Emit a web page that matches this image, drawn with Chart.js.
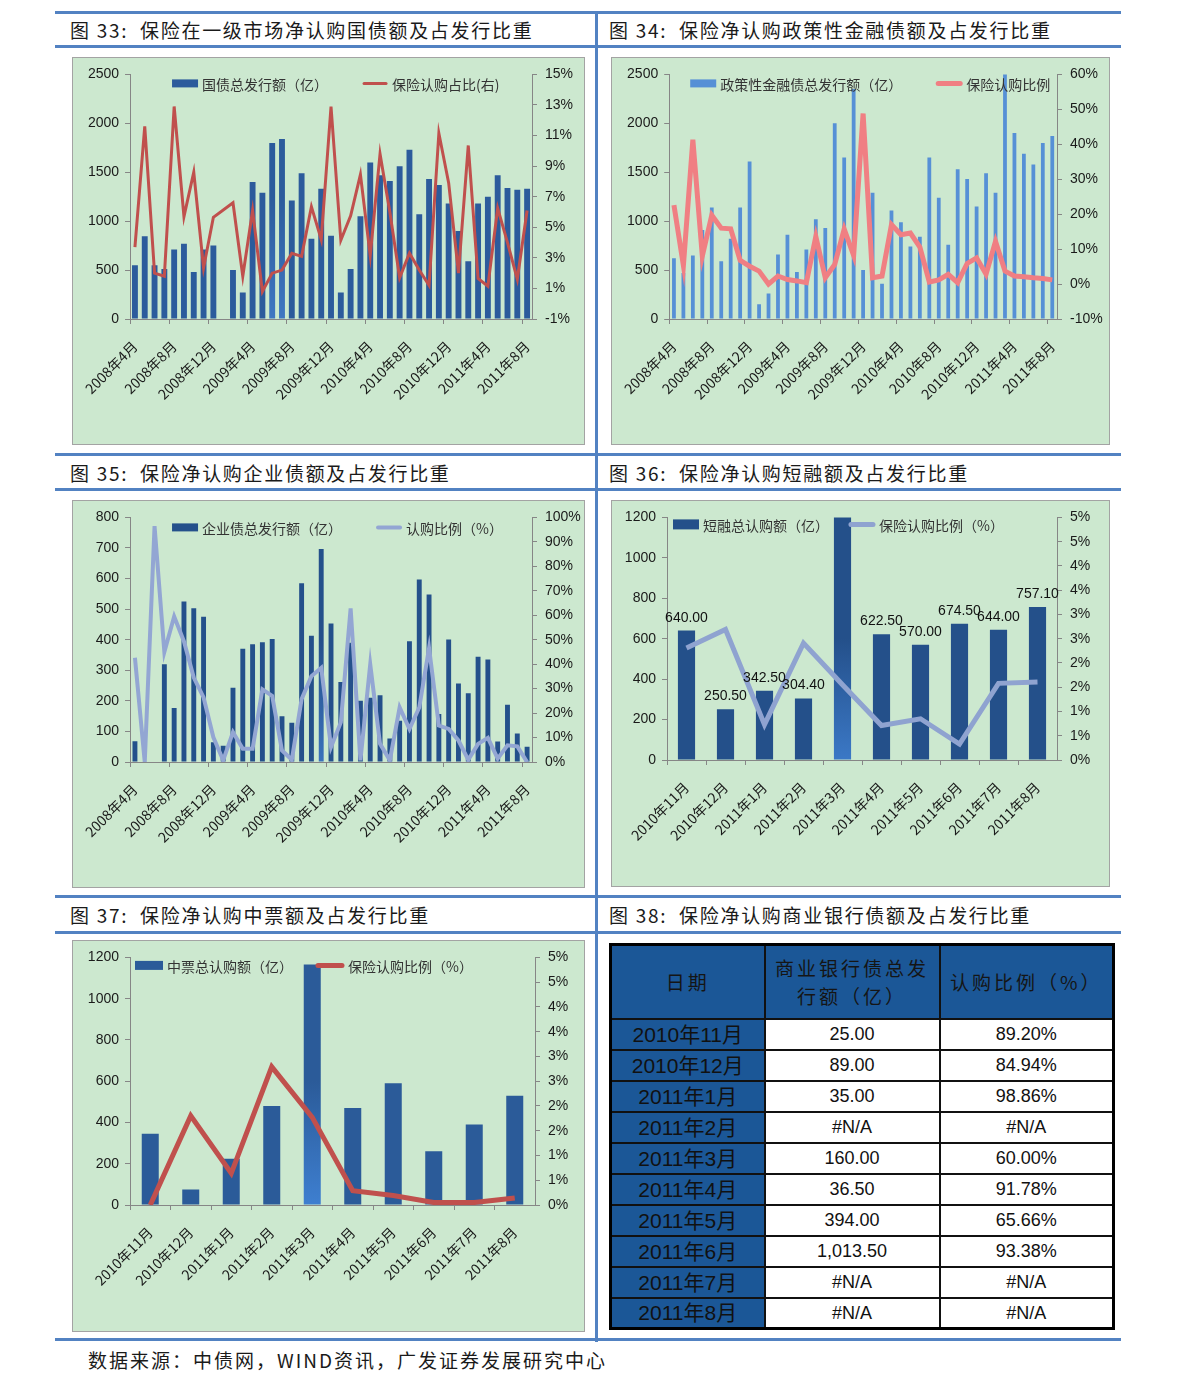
<!DOCTYPE html>
<html lang="zh-CN">
<head>
<meta charset="utf-8">
<title>保险净认购债券额及占发行比重</title>
<script src="https://cdn.jsdelivr.net/npm/chart.js@4.4.0/dist/chart.umd.min.js"></script>
<style>
  body { margin: 0; background: #fff; }
  #page { position: relative; width: 1191px; height: 1391px; font-family: 'Noto Sans CJK SC', sans-serif; overflow: hidden; }
  .hline { position: absolute; left: 55px; width: 1066px; height: 3px; background: #5282c2; }
  .vline { position: absolute; left: 595px; top: 12px; width: 3px; height: 1330px; background: #5282c2; }
  .title { position: absolute; font-size: 19px; line-height: 24px; letter-spacing: 1.7px; color: #1a1a1a; white-space: pre; }
  .box { position: absolute; background: #cce8cf; border: 1px solid #a3a3a3; box-sizing: border-box; }
  .box canvas { position: absolute; left: 0; top: 0; }
  #t38 { position: absolute; left: 609px; top: 943px; width: 503px; height: 387px; border-collapse: collapse; border: 3px solid #000; table-layout: fixed; }
  #t38 th, #t38 td { border: 2px solid #111; text-align: center; padding: 0; line-height: 1; }
  #t38 th { background: #1b5797; color: #151515; font-weight: normal; font-size: 19px; letter-spacing: 3px; line-height: 28px; }
  #t38 thead tr { height: 74px; }
  #t38 tbody tr { height: 31px; }
  #t38 td { font-family: 'Liberation Sans', 'Noto Sans CJK SC', sans-serif; font-size: 18px; color: #111; background: #fff; }
  #t38 td.m { background: #1b5797; font-size: 21px; }
  .src { position: absolute; left: 88px; top: 1346px; font-size: 19px; letter-spacing: 2px; color: #1a1a1a; }
</style>
</head>
<body>
<div id="page">
  <div class="hline" style="top:11px"></div>
  <div class="hline" style="top:45px"></div>
  <div class="hline" style="top:453px"></div>
  <div class="hline" style="top:488px"></div>
  <div class="hline" style="top:895px"></div>
  <div class="hline" style="top:931px"></div>
  <div class="hline" style="top:1338px"></div>
  <div class="vline"></div>

  <div class="title" style="left:70px;top:18px">图 33:  保险在一级市场净认购国债额及占发行比重</div>
  <div class="title" style="left:609px;top:18px">图 34:  保险净认购政策性金融债额及占发行比重</div>
  <div class="title" style="left:70px;top:461px">图 35:  保险净认购企业债额及占发行比重</div>
  <div class="title" style="left:609px;top:461px">图 36:  保险净认购短融额及占发行比重</div>
  <div class="title" style="left:70px;top:903px">图 37:  保险净认购中票额及占发行比重</div>
  <div class="title" style="left:609px;top:903px">图 38:  保险净认购商业银行债额及占发行比重</div>

  <div class="box" style="left:72px;top:57px;width:513px;height:388px"><canvas id="c33" width="511" height="386"></canvas></div>
  <div class="box" style="left:611px;top:57px;width:499px;height:388px"><canvas id="c34" width="497" height="386"></canvas></div>
  <div class="box" style="left:72px;top:500px;width:513px;height:388px"><canvas id="c35" width="511" height="386"></canvas></div>
  <div class="box" style="left:611px;top:500px;width:499px;height:387px"><canvas id="c36" width="497" height="385"></canvas></div>
  <div class="box" style="left:72px;top:940px;width:513px;height:392px"><canvas id="c37" width="511" height="390"></canvas></div>

  <table id="t38">
    <colgroup><col style="width:154px"><col style="width:175px"><col style="width:174px"></colgroup>
    <thead><tr><th>日期</th><th>商业银行债总发<br>行额（亿）</th><th>认购比例（%）</th></tr></thead>
    <tbody id="t38body"></tbody>
  </table>

  <div class="src">数据来源：中债网，WIND资讯，广发证券发展研究中心</div>
</div>

<script>
// 月份（2008年4月 - 2011年8月）
const months = ['2008年4月','2008年5月','2008年6月','2008年7月','2008年8月','2008年9月','2008年10月','2008年11月','2008年12月',
  '2009年1月','2009年2月','2009年3月','2009年4月','2009年5月','2009年6月','2009年7月','2009年8月','2009年9月','2009年10月','2009年11月','2009年12月',
  '2010年1月','2010年2月','2010年3月','2010年4月','2010年5月','2010年6月','2010年7月','2010年8月','2010年9月','2010年10月','2010年11月','2010年12月',
  '2011年1月','2011年2月','2011年3月','2011年4月','2011年5月','2011年6月','2011年7月','2011年8月'];
const recentMonths = ['2010年11月','2010年12月','2011年1月','2011年2月','2011年3月','2011年4月','2011年5月','2011年6月','2011年7月','2011年8月'];

// 图33 国债
const govIssue = [550,845,550,510,710,770,480,710,750,null,500,270,1400,1290,1800,1840,1210,1490,820,1330,850,270,510,1050,1600,1470,1410,1560,1730,1070,1430,1370,1180,900,590,1180,1250,1470,1340,1320,1330];
const govRatio = [3.7,11.6,2.0,1.8,12.9,5.7,8.6,2.35,5.65,null,6.6,1.8,6.1,0.8,2.0,2.2,3.3,3.1,6.35,4.2,12.9,4.15,5.75,8.45,3.15,9.8,6.0,1.7,3.3,2.2,1.2,11.15,7.9,2.0,10.35,1.65,1.15,6.25,4.0,1.6,6.1];

// 图34 政策性金融债
const policyIssue = [620,470,650,910,1140,590,820,1140,1610,150,260,660,860,480,710,1020,930,2000,1650,2350,500,1290,360,1110,990,740,840,1650,1240,760,1530,1430,1150,1490,1290,2600,1900,1690,1580,1800,1870];
const policyRatio = [22.6,5.3,41.3,8.0,19.7,16.0,15.8,6.8,5.1,3.7,0,2.3,1.3,0.9,0.4,13.6,1.8,5.6,15.7,8.2,48.8,1.8,2.3,17.0,14.1,14.6,10.6,0.6,1.2,2.8,0.4,5.9,7.5,2.8,12.2,3.7,2.3,2.1,1.8,1.6,1.2];

// 图35 企业债
const corpIssue = [68,0,2,320,177,525,503,475,65,53,243,370,385,392,402,150,128,585,413,697,453,262,390,200,210,218,77,135,395,597,548,157,401,257,225,344,335,67,187,93,50];
const corpRatio = [42.6,0,96.4,45,59.5,49.3,34.5,26.4,10.1,0.7,12.2,5.4,5.4,29.7,27,4.7,0.9,25.7,35.1,38.5,6.1,16.2,62.8,0.7,39.9,7.4,0.7,22.3,13.5,22.3,46.6,14.9,13.5,8.8,0.9,7.4,9.9,1.4,6.8,6.4,0];

// 图36 短融
const cpAmount = [640,250.5,342.5,304.4,1250,622.5,570,674.5,644,757.1];
const cpRatio = [2.31,2.69,0.73,2.41,1.55,0.71,0.85,0.33,1.58,1.61];

// 图37 中票
const mtnAmount = [345,75,224,480,1165,470,590,260,390,530];
const mtnRatio = [0,1.80,0.64,2.79,1.77,0.29,0.19,0.05,0.05,0.14];

// 图38 商业银行债（表格）
const bankIssue = ['25.00','89.00','35.00','#N/A','160.00','36.50','394.00','1,013.50','#N/A','#N/A'];
const bankRatio = ['89.20%','84.94%','98.86%','#N/A','60.00%','91.78%','65.66%','93.38%','#N/A','#N/A'];

const axisGray = '#868686';
const numFont = { family: "'Liberation Sans', Arial, sans-serif", size: 14 };
const catFont = { family: "'Liberation Sans Narrow', 'Noto Sans CJK SC', sans-serif", size: 14 };

// 图例画在绘图区里面（仿 Excel）
const insideLegend = {
  id: 'insideLegend',
  afterDraw(chart, args, opts) {
    const { ctx, chartArea } = chart;
    ctx.save();
    ctx.font = '14px "Noto Sans CJK SC", sans-serif';
    ctx.textBaseline = 'middle';
    let x = chartArea.left + opts.x;
    const y = chartArea.top + opts.y;
    chart.data.datasets.forEach(ds => {
      if (ds.type === 'line') {
        ctx.strokeStyle = ds.borderColor;
        ctx.lineWidth = ds.borderWidth;
        ctx.lineCap = 'round';
        ctx.beginPath();
        ctx.moveTo(x + 2, y);
        ctx.lineTo(x + opts.box - 2, y);
        ctx.stroke();
      } else {
        ctx.fillStyle = ds.legendColor;
        ctx.fillRect(x, y - opts.boxH / 2, opts.box, opts.boxH);
      }
      ctx.fillStyle = '#333';
      ctx.fillText(ds.label, x + opts.box + 4, y + 1);
      x += opts.box + 4 + ctx.measureText(ds.label).width + opts.gap;
    });
    ctx.restore();
  }
};

// 柱顶数值标签（图36）
const barLabels = {
  id: 'barLabels',
  afterDatasetsDraw(chart, args, opts) {
    if (!opts || !opts.show) return;
    const { ctx } = chart;
    const values = chart.data.datasets[0].data;
    ctx.save();
    ctx.font = "14px 'Liberation Sans', Arial, sans-serif";
    ctx.fillStyle = '#111';
    ctx.textAlign = 'center';
    chart.getDatasetMeta(0).data.forEach((bar, i) => {
      if (values[i] > chart.scales.y.max) return;
      ctx.fillText(values[i].toFixed(2), bar.x, bar.y - 9);
    });
    ctx.restore();
  }
};

function gradBar(base, light, idxs) {
  return c => {
    const area = c.chart.chartArea;
    if (!area || !idxs.includes(c.dataIndex)) return base;
    const g = c.chart.ctx.createLinearGradient(0, area.top, 0, area.bottom);
    g.addColorStop(0, base);
    g.addColorStop(0.5, base);
    g.addColorStop(1, light);
    return g;
  };
}

function buildChart(id, cfg) {
  const ctx = document.getElementById(id).getContext('2d');
  const yAxis = (pos, min, max, step, fmt, width, pad) => ({
    position: pos,
    min: min,
    max: max,
    ticks: { stepSize: step, font: numFont, color: '#1a1a1a', padding: pad, callback: fmt },
    grid: { drawOnChartArea: false, tickLength: 5, color: axisGray },
    border: { color: axisGray },
    afterFit: s => { s.width = width; }
  });
  return new Chart(ctx, {
    data: {
      labels: cfg.labels,
      datasets: [
        {
          type: 'bar',
          label: cfg.barLabel,
          data: cfg.bars,
          backgroundColor: gradBar(cfg.barColor, cfg.barLight, cfg.gradIdx || []),
          legendColor: cfg.barColor,
          barPercentage: cfg.barPct,
          categoryPercentage: 1,
          yAxisID: 'y',
          order: 1
        },
        {
          type: 'line',
          label: cfg.lineLabel,
          data: cfg.line,
          borderColor: cfg.lineColor,
          borderWidth: cfg.lineWidth,
          pointRadius: 0,
          tension: 0,
          spanGaps: true,
          yAxisID: 'y1',
          order: 0
        }
      ]
    },
    options: {
      responsive: false,
      animation: false,
      devicePixelRatio: 1,
      layout: { padding: { top: cfg.padTop, left: 0, right: 0, bottom: 0 } },
      plugins: {
        legend: { display: false },
        tooltip: { enabled: false },
        insideLegend: cfg.legend,
        barLabels: { show: !!cfg.showValues }
      },
      scales: {
        x: {
          grid: {
            offset: true,
            drawOnChartArea: false,
            tickLength: 5,
            color: c => (c.index % cfg.every === 0 ? axisGray : 'rgba(0,0,0,0)')
          },
          border: { color: axisGray },
          ticks: {
            autoSkip: false,
            minRotation: 45,
            maxRotation: 45,
            padding: 14,
            font: catFont,
            color: '#1a1a1a',
            callback: (v, i) => (i % cfg.every === 0 ? cfg.labels[i] : '')
          },
          afterFit: s => { s.height = cfg.xH; }
        },
        y: yAxis('left', 0, cfg.yMax, cfg.yStep, v => v, cfg.leftW, 6),
        y1: yAxis('right', cfg.rMin, cfg.rMax, cfg.rStep, cfg.rFmt, cfg.rightW, 8)
      }
    },
    plugins: [insideLegend, barLabels]
  });
}

const pct = v => v + '%';
const pctRound = v => Math.round(v) + '%';

buildChart('c33', {
  labels: months, bars: govIssue, line: govRatio, every: 4,
  barLabel: '国债总发行额（亿）', lineLabel: '保险认购占比(右)',
  barColor: '#2c5b9c', barLight: '#3f77c2', gradIdx: [14, 15], barPct: 0.6,
  lineColor: '#c0504d', lineWidth: 3,
  yMax: 2500, yStep: 500, rMin: -1, rMax: 15, rStep: 2, rFmt: pct,
  leftW: 55, rightW: 52, padTop: 13, xH: 125,
  legend: { x: 42, y: 9, box: 26, boxH: 8, gap: 34 }
});

buildChart('c34', {
  labels: months, bars: policyIssue, line: policyRatio, every: 4,
  barLabel: '政策性金融债总发行额（亿）', lineLabel: '保险认购比例',
  barColor: '#5690d6', barLight: '#5690d6', barPct: 0.4,
  lineColor: '#f07f83', lineWidth: 5,
  yMax: 2500, yStep: 500, rMin: -10, rMax: 60, rStep: 10, rFmt: pct,
  leftW: 55, rightW: 52, padTop: 13, xH: 125,
  legend: { x: 21, y: 9, box: 26, boxH: 8, gap: 34 }
});

buildChart('c35', {
  labels: months, bars: corpIssue, line: corpRatio, every: 4,
  barLabel: '企业债总发行额（亿）', lineLabel: '认购比例（%）',
  barColor: '#24508b', barLight: '#3a72bb', gradIdx: [19], barPct: 0.5,
  lineColor: '#93a6d3', lineWidth: 4,
  yMax: 800, yStep: 100, rMin: 0, rMax: 100, rStep: 10, rFmt: pct,
  leftW: 55, rightW: 52, padTop: 12, xH: 125,
  legend: { x: 42, y: 10, box: 26, boxH: 8, gap: 34 }
});

buildChart('c36', {
  labels: recentMonths, bars: cpAmount, line: cpRatio, every: 1,
  barLabel: '短融总认购额（亿）', lineLabel: '保险认购比例（%）',
  barColor: '#24508a', barLight: '#3b78c6', gradIdx: [4], barPct: 0.44,
  lineColor: '#8fa3d0', lineWidth: 5, showValues: true,
  yMax: 1200, yStep: 200, rMin: 0, rMax: 5, rStep: 0.5, rFmt: pctRound,
  leftW: 55, rightW: 52, padTop: 14, xH: 126,
  legend: { x: 6, y: 7, box: 26, boxH: 10, gap: 20 }
});

buildChart('c37', {
  labels: recentMonths, bars: mtnAmount, line: mtnRatio, every: 1,
  barLabel: '中票总认购额（亿）', lineLabel: '保险认购比例（%）',
  barColor: '#2b5b99', barLight: '#3e7fd0', gradIdx: [4], barPct: 0.42,
  lineColor: '#c0504d', lineWidth: 5,
  yMax: 1200, yStep: 200, rMin: 0, rMax: 5, rStep: 0.5, rFmt: pctRound,
  leftW: 57, rightW: 49, padTop: 14, xH: 126,
  legend: { x: 5, y: 8, box: 28, boxH: 9, gap: 23 }
});

// 图38 表格
const tbody = document.getElementById('t38body');
recentMonths.forEach((m, i) => {
  const tr = document.createElement('tr');
  tr.innerHTML = `<td class="m">${m}</td><td>${bankIssue[i]}</td><td>${bankRatio[i]}</td>`;
  tbody.appendChild(tr);
});
</script>
</body>
</html>
